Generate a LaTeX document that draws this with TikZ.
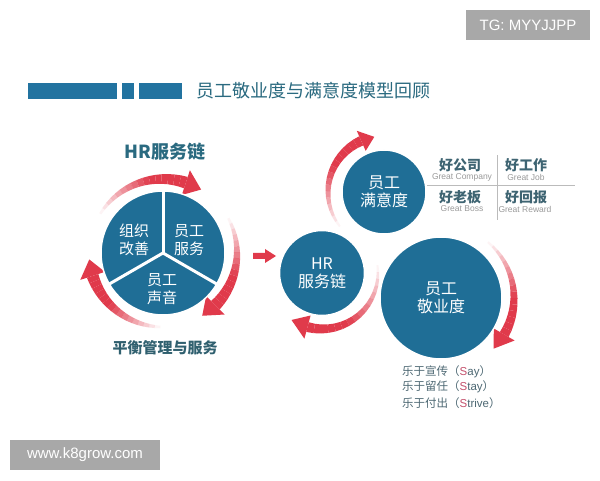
\documentclass[tikz,border=0pt]{standalone}
\usepackage{fontspec}
\setmainfont{Liberation Sans}
\newfontfamily\cjk{Noto Sans CJK SC}
\usetikzlibrary{calc}
\definecolor{circblue}{HTML}{1F6E96}
\definecolor{barblue}{HTML}{2273A0}
\definecolor{titleteal}{HTML}{2A6A80}
\definecolor{arrowred}{HTML}{E03A4B}
\definecolor{gridtxt}{HTML}{3E6472}
\definecolor{gridgray}{HTML}{9A9A9A}
\definecolor{listtxt}{HTML}{4D6873}
\definecolor{sred}{HTML}{C4506C}
\definecolor{wmgray}{HTML}{A8A8A8}
\definecolor{darktxt}{HTML}{30606F}
\definecolor{linegray}{HTML}{BBBBBB}

% #1 cx, #2 cy, #3 r, #4 tail angle, #5 head base angle, #6 tip angle, #7 shaft half width, #8 head half width
\newcommand\curvarrow[8]{%
  \begin{scope}[shift={(#1,#2)}]
    \foreach \i in {0,...,15}{%
      \pgfmathsetmacro\aa{#4+(#5-#4)*\i/16}%
      \pgfmathsetmacro\ab{#4+(#5-#4)*(\i+1)/16}%
      \pgfmathsetmacro\wa{#7*(0.2+0.8*\i/16)}%
      \pgfmathsetmacro\wb{#7*(0.2+0.8*(\i+1)/16)}%
      \pgfmathsetmacro\op{min(1,0.05+1.6*\i/16)}%
      \fill[arrowred, opacity=\op] (\aa:{#3+\wa}) -- (\ab:{#3+\wb}) -- (\ab:{#3-\wb}) -- (\aa:{#3-\wa}) -- cycle;
    }
    \fill[arrowred] (#5:{#3+#8}) -- (#6:#3) -- (#5:{#3-#8}) -- cycle;
  \end{scope}}

\begin{document}
\begin{tikzpicture}[x=1pt,y=1pt,
  bubble/.style={circle, fill=circblue, draw=white, line width=1.5pt, text=white,
    font=\cjk\fontsize{16}{18}\selectfont, align=center, inner sep=0pt},
  seclabel/.style={text=white, font=\cjk\fontsize{15}{18}\selectfont, align=center},
  gridcn/.style={text=gridtxt, font=\cjk\bfseries\fontsize{14}{16}\selectfont},
  griden/.style={text=gridgray, font=\fontsize{8.5}{10}\selectfont},
  listitem/.style={text=listtxt, anchor=west, inner sep=0pt, font=\cjk\fontsize{11.5}{13}\selectfont},
  wmark/.style={fill=wmgray, text=white, font=\fontsize{15}{18}\selectfont, inner sep=0pt}
]
\useasboundingbox (0,0) rectangle (600,480);
\fill[white] (0,0) rectangle (600,480);

% watermarks
\node[wmark, minimum width=124, minimum height=30] (tg) at (528,455) {TG: MYYJJPP};
\node[wmark, minimum width=150, minimum height=30] (www) at (85,25) {www.k8grow.com};

% header
\fill[barblue] (28,381) rectangle (117,397);
\fill[barblue] (122,381) rectangle (134,397);
\fill[barblue] (139,381) rectangle (182,397);
\node[anchor=west, inner sep=0pt, text=titleteal, font=\cjk\fontsize{18}{20}\selectfont] (title) at (196,389) {员工敬业度与满意度模型回顾};

% left part
\node[text=titleteal, font=\cjk\bfseries\fontsize{18}{20}\selectfont] (lefttitle) at (165,328) {HR服务链};
\node[text=darktxt, font=\cjk\bfseries\fontsize{15}{17}\selectfont] (leftfoot) at (165,132) {平衡管理与服务};

\curvarrow{163}{227}{74}{148}{72}{59}{6}{13}
\curvarrow{163}{227}{74}{268}{198}{185}{6}{13}
\curvarrow{163}{227}{74}{28}{-45}{-58}{6}{13}

\node[bubble, minimum size=124] (chain) at (163,227) {};
\draw[white, line width=3pt] (chain.center) -- (chain.90);
\draw[white, line width=3pt] (chain.center) -- (chain.210);
\draw[white, line width=3pt] (chain.center) -- (chain.330);
\node[seclabel] (org) at (134,240) {组织\\改善};
\node[seclabel] (serv) at (189,240) {员工\\服务};
\node[seclabel] (voice) at (162,191) {员工\\声音};

% small arrow
\fill[arrowred] (253,221) -- (265,221) -- (265,217) -- (276,224) -- (265,231) -- (265,227) -- (253,227) -- cycle;

% right part arrows
\curvarrow{384}{288}{56}{218}{114}{100}{5}{11}
\curvarrow{322}{207}{56}{8}{-105}{-123}{5}{12}
\curvarrow{441}{182}{73}{50}{-30}{-44}{5}{12}

% bubbles
\node[bubble, minimum size=84] (sat) at (384,288) {员工\\满意度};
\node[bubble, minimum size=85] (hrb) at (322,207) {HR\\服务链};
\node[bubble, minimum size=122] (eng) at (441,182) {员工\\敬业度};

% grid
\draw[linegray, line width=0.8pt] (497,260) -- (497,325);
\draw[linegray, line width=0.8pt] (427,295) -- (575,295);
\node[gridcn] (gco) at (460,315) {好公司};
\node[griden] (gcoe) at (462,303) {Great Company};
\node[gridcn] (gjo) at (526,315) {好工作};
\node[griden] (gjoe) at (526,303) {Great Job};
\node[gridcn] (gbo) at (460,283) {好老板};
\node[griden] (gboe) at (462,271) {Great Boss};
\node[gridcn] (gre) at (526,283) {好回报};
\node[griden] (gree) at (525,271) {Great Reward};

% list
\node[listitem] (say) at (402,108) {乐于宣传（{\normalfont\textcolor{sred}{S}ay}）};
\node[listitem] (stay) at (402,93) {乐于留任（{\normalfont\textcolor{sred}{S}tay}）};
\node[listitem] (strive) at (402,77) {乐于付出（{\normalfont\textcolor{sred}{S}trive}）};
\end{tikzpicture}
\end{document}
